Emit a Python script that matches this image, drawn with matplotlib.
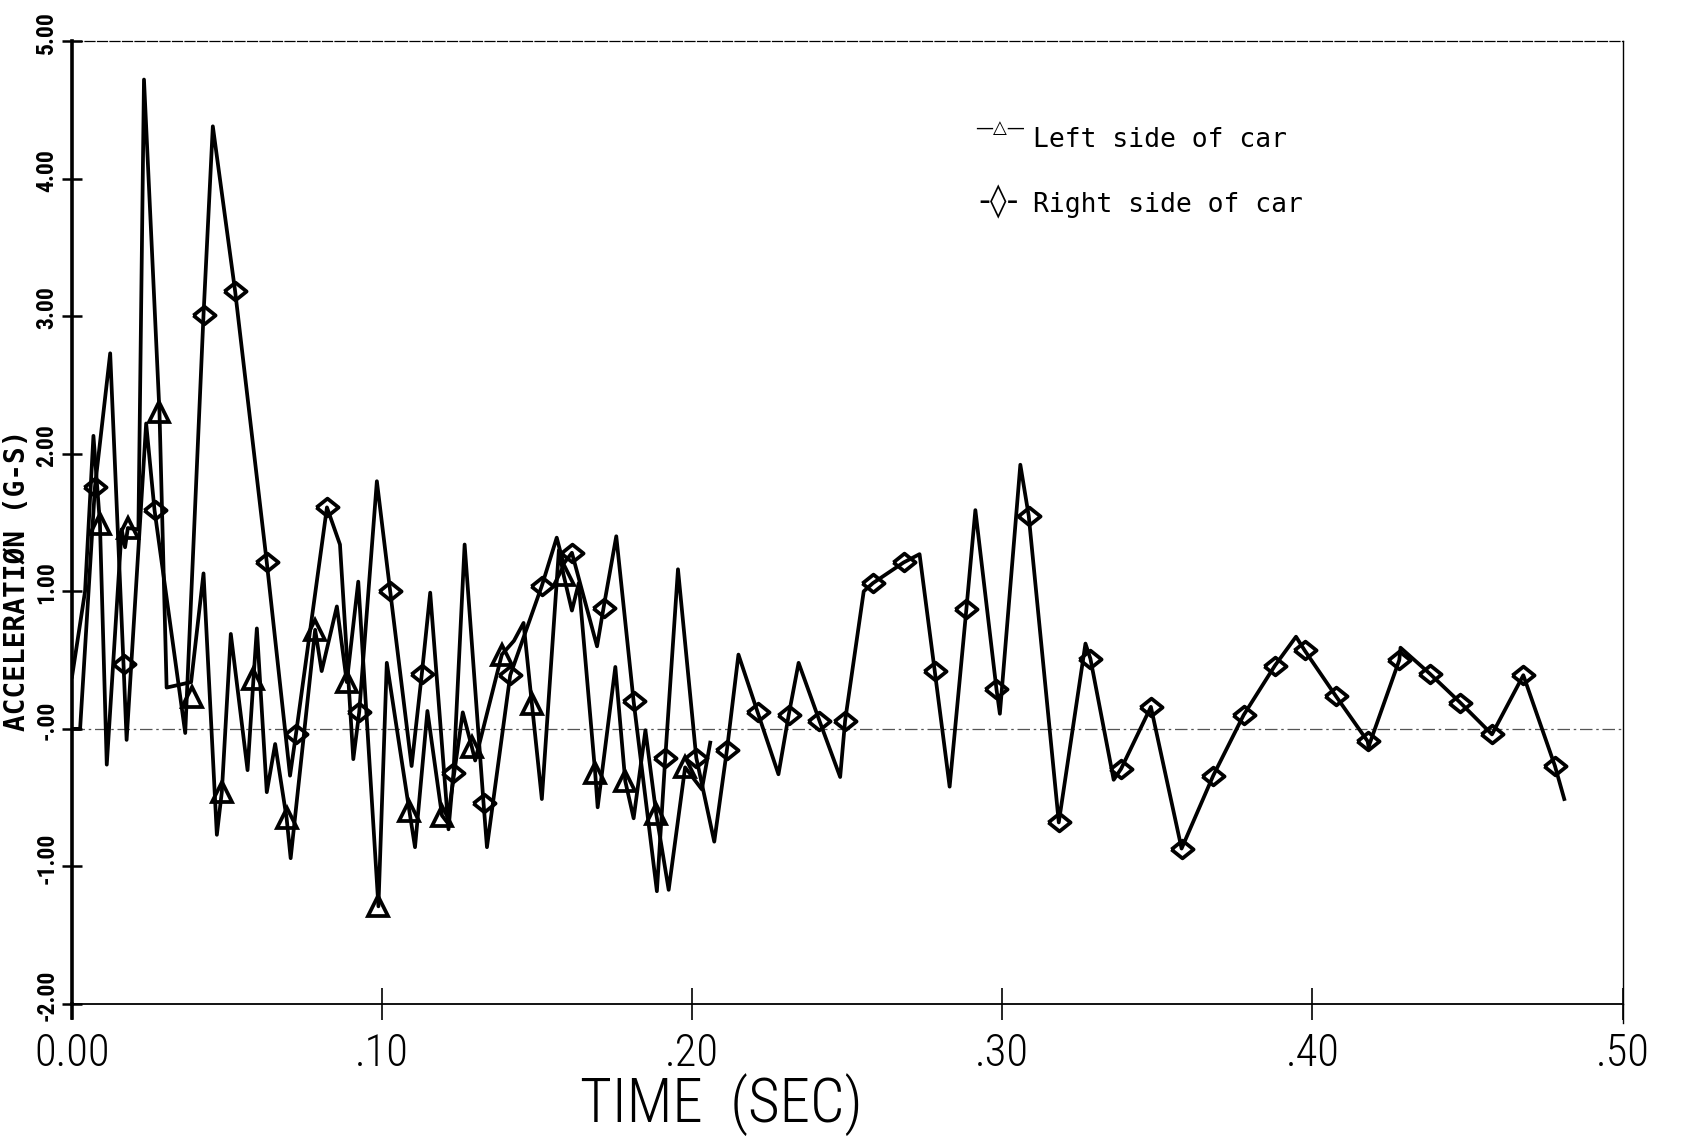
import matplotlib
matplotlib.use('Agg')
import matplotlib.pyplot as plt
import matplotlib.transforms as mtransforms

# left side of car (triangles) - line vertices
left_t = [0.0000, 0.0042, 0.0069, 0.0090, 0.0112, 0.0160, 0.0171, 0.0180, 0.0214, 0.0232,
          0.0282, 0.0305, 0.0384, 0.0424, 0.0467, 0.0483, 0.0512, 0.0566, 0.0585, 0.0596,
          0.0628, 0.0655, 0.0692, 0.0705, 0.0784, 0.0805, 0.0854, 0.0886, 0.0923, 0.0988,
          0.1015, 0.1088, 0.1106, 0.1146, 0.1193, 0.1210, 0.1260, 0.1289, 0.1300, 0.1386,
          0.1425, 0.1456, 0.1483, 0.1515, 0.1570, 0.1585, 0.1612, 0.1634, 0.1687, 0.1695,
          0.1752, 0.1784, 0.1811, 0.1849, 0.1884, 0.1924, 0.1977, 0.2031, 0.2058]
left_a = [0.38, 1.00, 2.13, 1.49, -0.26, 1.45, 1.32, 1.46, 1.45, 4.72,
          2.30, 0.30, 0.34, 1.13, -0.77, -0.46, 0.69, -0.30, 0.36, 0.73,
          -0.46, -0.11, -0.65, -0.94, 0.72, 0.42, 0.89, 0.34, 1.07, -1.29,
          0.48, -0.60, -0.86, 0.13, -0.63, -0.68, 0.12, -0.13, -0.23, 0.54,
          0.64, 0.77, 0.18, -0.51, 1.30, 1.12, 0.86, 1.06, -0.32, -0.57,
          0.45, -0.38, -0.65, -0.01, -0.62, -1.17, -0.28, -0.44, -0.10]
left_mark_t = [0.0090, 0.0180, 0.0282, 0.0386, 0.0483, 0.0585, 0.0692, 0.0784, 0.0886, 0.0988,
               0.1088, 0.1193, 0.1289, 0.1386, 0.1483, 0.1585, 0.1687, 0.1784, 0.1884, 0.1977]
left_mark_a = [1.49, 1.46, 2.30, 0.23, -0.46, 0.36, -0.65, 0.72, 0.34, -1.29,
               -0.60, -0.63, -0.13, 0.54, 0.18, 1.12, -0.32, -0.38, -0.62, -0.28]

# right side of car (diamonds)
right_t = [0.0000, 0.0026, 0.0074, 0.0123, 0.0166, 0.0176, 0.0239, 0.0266, 0.0365, 0.0424,
           0.0454, 0.0526, 0.0628, 0.0703, 0.0722, 0.0822, 0.0864, 0.0907, 0.0926, 0.0983,
           0.1026, 0.1095, 0.1128, 0.1155, 0.1214, 0.1230, 0.1266, 0.1327, 0.1338, 0.1413,
           0.1515, 0.1563, 0.1585, 0.1612, 0.1693, 0.1714, 0.1755, 0.1811, 0.1886, 0.1913,
           0.1954, 0.2013, 0.2071, 0.2112, 0.2149, 0.2211, 0.2278, 0.2311, 0.2343, 0.2410,
           0.2477, 0.2493, 0.2553, 0.2583, 0.2682, 0.2733, 0.2782, 0.2830, 0.2884, 0.2913,
           0.2981, 0.2992, 0.3058, 0.3085, 0.3182, 0.3268, 0.3284, 0.3359, 0.3383, 0.3479,
           0.3578, 0.3680, 0.3778, 0.3879, 0.3947, 0.3975, 0.4075, 0.4178, 0.4181, 0.4280,
           0.4284, 0.4379, 0.4477, 0.4579, 0.4680, 0.4782, 0.4812]
right_a = [0.00, 0.00, 1.76, 2.73, 0.47, -0.08, 2.22, 1.59, -0.03, 3.01,
           4.38, 3.18, 1.21, -0.34, -0.04, 1.61, 1.34, -0.22, 0.12, 1.80,
           1.00, -0.27, 0.40, 0.99, -0.73, -0.32, 1.34, -0.54, -0.86, 0.39,
           1.04, 1.39, 1.20, 1.28, 0.60, 0.88, 1.40, 0.20, -1.18, -0.21,
           1.16, -0.21, -0.82, -0.15, 0.54, 0.12, -0.33, 0.10, 0.48, 0.06,
           -0.35, 0.06, 1.00, 1.06, 1.21, 1.27, 0.42, -0.42, 0.87, 1.59,
           0.29, 0.11, 1.92, 1.55, -0.68, 0.62, 0.51, -0.37, -0.29, 0.16,
           -0.87, -0.34, 0.10, 0.46, 0.67, 0.57, 0.24, -0.09, -0.13, 0.50,
           0.59, 0.40, 0.19, -0.04, 0.39, -0.27, -0.51]
right_mark_t = [0.0074, 0.0166, 0.0266, 0.0424, 0.0526, 0.0628, 0.0722, 0.0822, 0.0926, 0.1026,
                0.1128, 0.1230, 0.1327, 0.1413, 0.1515, 0.1612, 0.1714, 0.1811, 0.1913, 0.2013,
                0.2112, 0.2211, 0.2311, 0.2410, 0.2493, 0.2583, 0.2682, 0.2782, 0.2884, 0.2981,
                0.3085, 0.3182, 0.3284, 0.3383, 0.3479, 0.3578, 0.3680, 0.3778, 0.3879, 0.3975,
                0.4075, 0.4178, 0.4280, 0.4379, 0.4477, 0.4579, 0.4680, 0.4782]
right_mark_a = [1.76, 0.47, 1.59, 3.01, 3.18, 1.21, -0.04, 1.61, 0.12, 1.00,
                0.40, -0.32, -0.54, 0.39, 1.04, 1.28, 0.88, 0.20, -0.21, -0.21,
                -0.15, 0.12, 0.10, 0.06, 0.06, 1.06, 1.21, 0.42, 0.87, 0.29,
                1.55, -0.68, 0.51, -0.29, 0.16, -0.87, -0.34, 0.10, 0.46, 0.57,
                0.24, -0.09, 0.50, 0.40, 0.19, -0.04, 0.39, -0.27]

x_ticks = [0.0, 0.1, 0.2, 0.3, 0.4, 0.5]
x_tick_labels = ['0.00', '.10', '.20', '.30', '.40', '.50']
y_ticks = [-2, -1, 0, 1, 2, 3, 4, 5]
y_tick_labels = ['-2.00', '-1.00', '-.00', '1.00', '2.00', '3.00', '4.00', '5.00']

narrow = ['Roboto Condensed', 'Liberation Sans Narrow', 'DejaVu Sans']
mono_font = dict(family='DejaVu Sans Mono')
diamond = [(-1, 0), (0, 0.8), (1, 0), (0, -0.8), (-1, 0)]

fig = plt.figure(figsize=(16.87, 11.40), dpi=100)
ax = fig.add_axes([0.0427, 0.1193, 0.9191, 0.8447])
ax.set_xlim(0, 0.5)
ax.set_ylim(-2, 5)

ax.axhline(0, color='#555555', lw=0.9, ls=(0, (10, 3, 2, 3)), zorder=1)

ax.plot(left_t, left_a, color='black', lw=2.7, zorder=3)
ax.plot(right_t, right_a, color='black', lw=2.7, zorder=3)
ax.plot(left_mark_t, left_mark_a, ls='none', marker='^', ms=14, mew=2.7,
        mec='black', mfc='none', zorder=4)
ax.plot(right_mark_t, right_mark_a, ls='none', marker=diamond, ms=16, mew=2.7,
        mec='black', mfc='none', zorder=4)

# frame
ax.spines['left'].set_linewidth(2.6)
ax.spines['bottom'].set_linewidth(1.3)
ax.spines['top'].set_linewidth(0.9)
ax.spines['top'].set_linestyle((0, (8, 2)))
ax.spines['right'].set_linewidth(1.0)
ax.plot([0.5, 0.5], [-2.14, -2], color='black', lw=1.0, clip_on=False)
ax.plot([0, 0], [-2.1, -2], color='black', lw=2.6, clip_on=False)

ax.set_xticks(x_ticks)
ax.set_xticklabels(x_tick_labels, fontsize=32, family=narrow, weight='light')
ax.set_yticks(y_ticks)
ax.set_yticklabels(y_tick_labels, fontsize=17, family=narrow, weight='bold',
                   rotation=90, va='center')
ax.tick_params(axis='x', direction='inout', length=23, width=1.2, pad=9)
ax.tick_params(axis='y', direction='inout', length=14, width=1.8, pad=3)
shift = mtransforms.ScaledTranslation(0, 6 / 72, fig.dpi_scale_trans)
for lab in ax.get_yticklabels():
    lab.set_transform(lab.get_transform() + shift)

ax.set_ylabel('ACCELERATIØN (G-S)', fontsize=20, fontweight='bold', **mono_font)
ax.yaxis.set_label_coords(-0.0265, 0.44)
ax.set_xlabel('TIME  (SEC)', fontsize=44, family=narrow, weight='light')
ax.xaxis.set_label_coords(0.4186, -0.072)

# hand-drawn style legend
fig.text(0.593, 0.888, '—△—', fontsize=13, family='DejaVu Sans', ha='center', va='center')
fig.text(0.6123, 0.8707, 'Left side of car', fontsize=19, ha='left', va='baseline', **mono_font)
fig.text(0.592, 0.823, '-◊-', fontsize=24, family='DejaVu Sans', ha='center', va='center')
fig.text(0.6123, 0.814, 'Right side of car', fontsize=19, ha='left', va='baseline', **mono_font)

fig.savefig('out.png', dpi=100)
